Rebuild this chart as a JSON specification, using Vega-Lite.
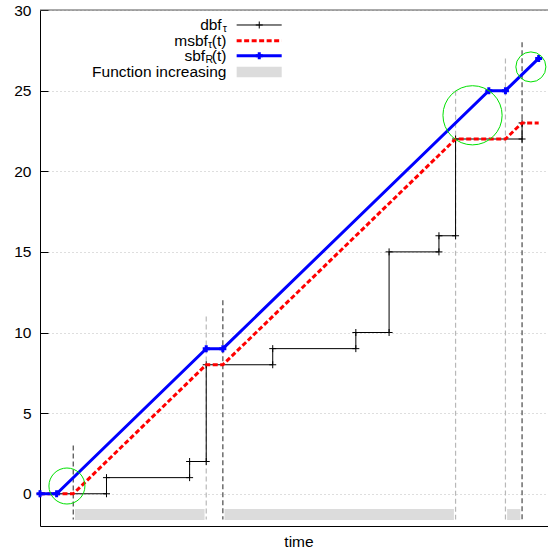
{
  "$schema": "https://vega.github.io/schema/vega-lite/v6.json",
  "width": 508,
  "height": 516,
  "autosize": {"type": "none"},
  "padding": {"left": 40, "top": 10, "right": 0, "bottom": 26},
  "config": {"view": {"stroke": null}, "font": "Liberation Sans"},
  "datasets": {
    "dbf": [
      {"i": 0, "t": 0, "v": 0}, {"i": 1, "t": 4, "v": 0}, {"i": 2, "t": 4, "v": 1},
      {"i": 3, "t": 9, "v": 1}, {"i": 4, "t": 9, "v": 2}, {"i": 5, "t": 10, "v": 2},
      {"i": 6, "t": 10, "v": 8}, {"i": 7, "t": 14, "v": 8}, {"i": 8, "t": 14, "v": 9},
      {"i": 9, "t": 19, "v": 9}, {"i": 10, "t": 19, "v": 10}, {"i": 11, "t": 21, "v": 10},
      {"i": 12, "t": 21, "v": 15}, {"i": 13, "t": 24, "v": 15}, {"i": 14, "t": 24, "v": 16},
      {"i": 15, "t": 25, "v": 16}, {"i": 16, "t": 25, "v": 22}, {"i": 17, "t": 29, "v": 22},
      {"i": 18, "t": 29, "v": 23}
    ],
    "msbf": [
      {"t": 0, "v": 0}, {"t": 2, "v": 0}, {"t": 10, "v": 8}, {"t": 11, "v": 8},
      {"t": 25, "v": 22}, {"t": 28, "v": 22}, {"t": 29, "v": 23}, {"t": 30, "v": 23}
    ],
    "sbf": [
      {"t": 0, "v": 0}, {"t": 1, "v": 0}, {"t": 10, "v": 9}, {"t": 11, "v": 9},
      {"t": 27, "v": 25}, {"t": 28, "v": 25}, {"t": 30, "v": 27}
    ],
    "increasing": [
      {"t1": 2.1, "t2": 9.9, "lo": -1.63, "hi": -0.95},
      {"t1": 11.1, "t2": 24.9, "lo": -1.63, "hi": -0.95},
      {"t1": 28.1, "t2": 28.9, "lo": -1.63, "hi": -0.95}
    ],
    "marks": [
      {"t": 2, "top": 3, "kind": "dark"},
      {"t": 10, "top": 11, "kind": "light"},
      {"t": 11, "top": 12, "kind": "dark"},
      {"t": 25, "top": 25, "kind": "light"},
      {"t": 28, "top": 27, "kind": "light"},
      {"t": 29, "top": 28, "kind": "dark"}
    ],
    "circles": [
      {"t": 1.62, "v": 0.48, "r": 1.26},
      {"t": 26.02, "v": 23.47, "r": 2.07},
      {"t": 29.53, "v": 26.47, "r": 1.05}
    ],
    "legend": [
      {"key": "dbf", "main": "dbf", "mainEnd": 10.93, "sub": "τ", "subEnd": 11.25, "tail": "", "tailEnd": 11.22, "v": 29.07, "s1": 11.83, "s2": 14.54, "sm": 13.19, "hi": 29.07, "lo": 29.07},
      {"key": "msbf", "main": "msbf", "mainEnd": 10.1, "sub": "τ", "subEnd": 10.36, "tail": "(t)", "tailEnd": 11.22, "v": 28.09, "s1": 11.83, "s2": 14.54, "sm": 13.19, "hi": 28.09, "lo": 28.09},
      {"key": "sbf", "main": "sbf", "mainEnd": 9.93, "sub": "R", "subEnd": 10.41, "tail": "(t)", "tailEnd": 11.22, "v": 27.16, "s1": 11.83, "s2": 14.54, "sm": 13.19, "hi": 27.16, "lo": 27.16},
      {"key": "inc", "main": "Function increasing", "mainEnd": 11.22, "sub": "", "subEnd": 11.22, "tail": "", "tailEnd": 11.22, "v": 26.16, "s1": 11.83, "s2": 14.54, "sm": 13.19, "hi": 26.48, "lo": 25.83}
    ],
    "frame": [{"edge": 30}]
  },
  "layer": [
    {
      "data": {"name": "increasing"},
      "mark": {"type": "rect", "color": "#dcdcdc"},
      "encoding": {
        "x": {"field": "t1", "type": "quantitative",
          "scale": {"domain": [0, 30.56], "nice": false, "zero": false},
          "axis": {"title": "time", "labels": false, "ticks": false, "grid": false,
            "domainColor": "#000000", "domainWidth": 1,
            "titleFont": "Liberation Sans", "titleFontSize": 15.5, "titleFontWeight": "normal",
            "titleColor": "#000000", "titleBaseline": "alphabetic", "titlePadding": 20, "titleX": 258.5}},
        "x2": {"field": "t2"},
        "y": {"field": "hi", "type": "quantitative",
          "scale": {"domain": [-2, 30], "nice": false, "zero": false},
          "axis": {"title": null, "values": [0, 5, 10, 15, 20, 25, 30],
            "grid": true, "gridColor": "#bdbdbd", "gridDash": [1, 3], "gridWidth": 1,
            "domainColor": "#000000", "domainWidth": 1,
            "tickColor": "#000000", "tickSize": -8, "tickWidth": 1,
            "labelPadding": 17, "labelFont": "Liberation Sans", "labelFontSize": 15.5, "labelColor": "#000000"}},
        "y2": {"field": "lo"}
      }
    },
    {
      "data": {"name": "marks"},
      "mark": {"type": "rule", "strokeDash": [5, 3], "strokeWidth": 1.2},
      "encoding": {
        "x": {"field": "t", "type": "quantitative"},
        "y": {"field": "top", "type": "quantitative"},
        "y2": {"datum": -1.6},
        "color": {"field": "kind", "type": "nominal", "scale": {"domain": ["dark", "light"], "range": ["#4a4a4a", "#b8b8b8"]}, "legend": null}
      }
    },
    {
      "data": {"name": "dbf"},
      "mark": {"type": "line", "color": "#000000", "strokeWidth": 1},
      "encoding": {
        "x": {"field": "t", "type": "quantitative"},
        "y": {"field": "v", "type": "quantitative"},
        "order": {"field": "i", "type": "quantitative"}
      }
    },
    {
      "data": {"name": "dbf"},
      "mark": {"type": "point", "shape": "M-1,0H1M0,-1V1", "size": 49, "color": "#000000", "strokeWidth": 1, "opacity": 1},
      "encoding": {
        "x": {"field": "t", "type": "quantitative"},
        "y": {"field": "v", "type": "quantitative"}
      }
    },
    {
      "data": {"name": "msbf"},
      "mark": {"type": "line", "color": "#ff0000", "strokeWidth": 3, "strokeDash": [5, 2.5]},
      "encoding": {
        "x": {"field": "t", "type": "quantitative"},
        "y": {"field": "v", "type": "quantitative"}
      }
    },
    {
      "data": {"name": "sbf"},
      "mark": {"type": "line", "color": "#0000ff", "strokeWidth": 3},
      "encoding": {
        "x": {"field": "t", "type": "quantitative"},
        "y": {"field": "v", "type": "quantitative"}
      }
    },
    {
      "data": {"name": "sbf"},
      "mark": {"type": "point", "shape": "M-1,0H1M0,-1V1", "size": 49, "color": "#0000ff", "strokeWidth": 3, "opacity": 1},
      "encoding": {
        "x": {"field": "t", "type": "quantitative"},
        "y": {"field": "v", "type": "quantitative"}
      }
    },
    {
      "data": {"name": "circles"},
      "mark": {"type": "point", "shape": "circle", "filled": false, "color": "#00e000", "strokeWidth": 1, "opacity": 1},
      "encoding": {
        "x": {"field": "t", "type": "quantitative"},
        "y": {"field": "v", "type": "quantitative"},
        "size": {"field": "r", "type": "quantitative", "scale": {"type": "pow", "exponent": 2, "domain": [0, 1], "range": [0, 816.8]}, "legend": null}
      }
    },
    {
      "data": {"name": "legend"},
      "mark": {"type": "text", "align": "right", "baseline": "middle", "fontSize": 15.5, "font": "Liberation Sans", "color": "#000000"},
      "encoding": {
        "x": {"field": "mainEnd", "type": "quantitative"},
        "y": {"field": "v", "type": "quantitative"},
        "text": {"field": "main"}
      }
    },
    {
      "data": {"name": "legend"},
      "mark": {"type": "text", "align": "right", "baseline": "middle", "fontSize": 10.5, "dy": 4, "font": "Liberation Sans", "color": "#000000"},
      "encoding": {
        "x": {"field": "subEnd", "type": "quantitative"},
        "y": {"field": "v", "type": "quantitative"},
        "text": {"field": "sub"}
      }
    },
    {
      "data": {"name": "legend"},
      "mark": {"type": "text", "align": "right", "baseline": "middle", "fontSize": 15.5, "font": "Liberation Sans", "color": "#000000"},
      "encoding": {
        "x": {"field": "tailEnd", "type": "quantitative"},
        "y": {"field": "v", "type": "quantitative"},
        "text": {"field": "tail"}
      }
    },
    {
      "data": {"name": "legend"},
      "transform": [{"filter": "datum.key === 'dbf'"}],
      "mark": {"type": "rule", "color": "#000000", "strokeWidth": 1},
      "encoding": {
        "x": {"field": "s1", "type": "quantitative"},
        "x2": {"field": "s2"},
        "y": {"field": "v", "type": "quantitative"}
      }
    },
    {
      "data": {"name": "legend"},
      "transform": [{"filter": "datum.key === 'dbf'"}],
      "mark": {"type": "point", "shape": "M-1,0H1M0,-1V1", "size": 49, "color": "#000000", "strokeWidth": 1, "opacity": 1},
      "encoding": {
        "x": {"field": "sm", "type": "quantitative"},
        "y": {"field": "v", "type": "quantitative"}
      }
    },
    {
      "data": {"name": "legend"},
      "transform": [{"filter": "datum.key === 'msbf'"}],
      "mark": {"type": "rule", "color": "#ff0000", "strokeWidth": 3, "strokeDash": [5, 2.5]},
      "encoding": {
        "x": {"field": "s1", "type": "quantitative"},
        "x2": {"field": "s2"},
        "y": {"field": "v", "type": "quantitative"}
      }
    },
    {
      "data": {"name": "legend"},
      "transform": [{"filter": "datum.key === 'sbf'"}],
      "mark": {"type": "rule", "color": "#0000ff", "strokeWidth": 3},
      "encoding": {
        "x": {"field": "s1", "type": "quantitative"},
        "x2": {"field": "s2"},
        "y": {"field": "v", "type": "quantitative"}
      }
    },
    {
      "data": {"name": "legend"},
      "transform": [{"filter": "datum.key === 'sbf'"}],
      "mark": {"type": "point", "shape": "M-1,0H1M0,-1V1", "size": 49, "color": "#0000ff", "strokeWidth": 3, "opacity": 1},
      "encoding": {
        "x": {"field": "sm", "type": "quantitative"},
        "y": {"field": "v", "type": "quantitative"}
      }
    },
    {
      "data": {"name": "legend"},
      "transform": [{"filter": "datum.key === 'inc'"}],
      "mark": {"type": "rect", "color": "#dcdcdc"},
      "encoding": {
        "x": {"field": "s1", "type": "quantitative"},
        "x2": {"field": "s2"},
        "y": {"field": "hi", "type": "quantitative"},
        "y2": {"field": "lo"}
      }
    },
    {
      "data": {"name": "frame"},
      "mark": {"type": "rule", "color": "#555555", "strokeWidth": 1},
      "encoding": {
        "y": {"field": "edge", "type": "quantitative"}
      }
    }
  ]
}
